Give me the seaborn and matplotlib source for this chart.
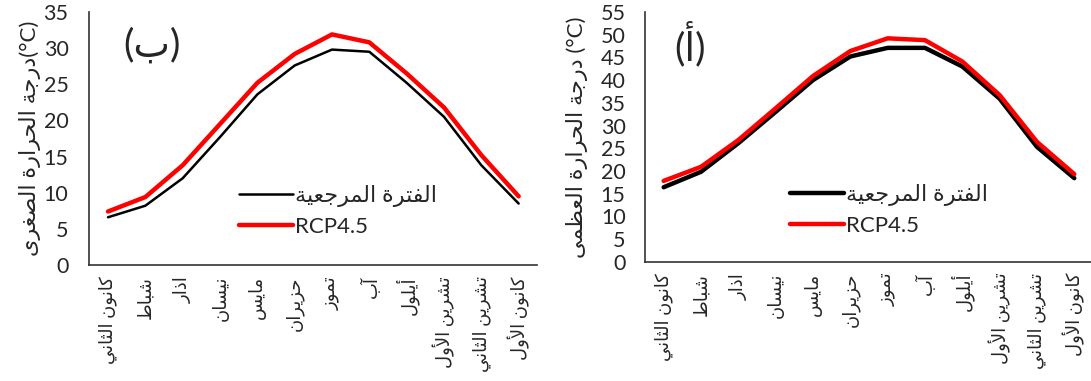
import pandas as pd
import numpy as np
import matplotlib
matplotlib.use('Agg')
import matplotlib.pyplot as plt
import seaborn as sns

# data
months = ['كانون الثاني', 'شباط', 'اذار', 'نيسان', 'مايس', 'حزيران', 'تموز',
          'آب', 'أيلول', 'تشرين الأول', 'تشرين الثاني', 'كانون الأول']
series_names = ['الفترة المرجعية', 'RCP4.5']

tmin_ref = [6.6, 8.2, 12.0, 17.7, 23.6, 27.6, 29.8, 29.5, 25.2, 20.5, 13.8, 8.5]
tmin_rcp = [7.4, 9.4, 13.8, 19.5, 25.2, 29.2, 31.9, 30.8, 26.5, 21.8, 15.2, 9.5]
tmax_ref = [16.4, 19.8, 26.1, 33.0, 40.0, 45.2, 47.1, 47.1, 43.0, 35.9, 25.3, 18.4]
tmax_rcp = [17.8, 20.9, 26.8, 33.8, 40.9, 46.4, 49.2, 48.8, 44.1, 36.7, 26.4, 19.3]

ylabel_min = 'درجة الحرارة الصغرى'
ylabel_max = 'درجة الحرارة العظمى'
panel_min = 'ب'
panel_max = 'أ'

# matplotlib has no arabic shaping: map letters to presentation forms and reverse
FORMS = {
    'ا': (0xFE8D, 2), 'أ': (0xFE83, 2), 'آ': (0xFE81, 2), 'إ': (0xFE87, 2),
    'ب': (0xFE8F, 4), 'ة': (0xFE93, 2), 'ت': (0xFE95, 4), 'ث': (0xFE99, 4),
    'ج': (0xFE9D, 4), 'ح': (0xFEA1, 4), 'خ': (0xFEA5, 4), 'د': (0xFEA9, 2),
    'ذ': (0xFEAB, 2), 'ر': (0xFEAD, 2), 'ز': (0xFEAF, 2), 'س': (0xFEB1, 4),
    'ش': (0xFEB5, 4), 'ص': (0xFEB9, 4), 'ض': (0xFEBD, 4), 'ط': (0xFEC1, 4),
    'ظ': (0xFEC5, 4), 'ع': (0xFEC9, 4), 'غ': (0xFECD, 4), 'ف': (0xFED1, 4),
    'ق': (0xFED5, 4), 'ك': (0xFED9, 4), 'ل': (0xFEDD, 4), 'م': (0xFEE1, 4),
    'ن': (0xFEE5, 4), 'ه': (0xFEE9, 4), 'و': (0xFEED, 2), 'ى': (0xFEEF, 2),
    'ي': (0xFEF1, 4),
}
LAM_ALEF = {'ا': 0xFEFB, 'أ': 0xFEF7, 'آ': 0xFEF5, 'إ': 0xFEF9}


def ar(text):
    out = []
    i = 0
    n = len(text)
    while i < n:
        ch = text[i]
        if ch not in FORMS:
            out.append(ch)
            i += 1
            continue
        prev = text[i - 1] if i > 0 else ''
        joins_prev = prev in FORMS and FORMS[prev][1] == 4
        if ch == 'ل' and i + 1 < n and text[i + 1] in LAM_ALEF:
            out.append(chr(LAM_ALEF[text[i + 1]] + int(joins_prev)))
            i += 2
            continue
        base, k = FORMS[ch]
        nxt = text[i + 1] if i + 1 < n else ''
        joins_next = k == 4 and nxt in FORMS
        if joins_prev and joins_next:
            off = 3
        elif joins_prev:
            off = 1
        elif joins_next:
            off = 2
        else:
            off = 0
        out.append(chr(base + off))
        i += 1
    return ''.join(reversed(out))


sns.set_style('white')
plt.rcParams['font.family'] = ['Lato', 'DejaVu Sans']

fig = plt.figure(figsize=(10.91, 3.81), dpi=100)
ax_min = fig.add_axes([0.0819, 0.3045, 0.4106, 0.664])
ax_max = fig.add_axes([0.5912, 0.3131, 0.4106, 0.6554])

idx = np.arange(len(months))


def draw(ax, ref, rcp, ref_lw, ymax, ylab, unit, panel, px, leg_anchor, ypad, lpad):
    sns.lineplot(x=idx, y=ref, ax=ax, color='black', linewidth=ref_lw,
                 label=ar(series_names[0]))
    sns.lineplot(x=idx, y=rcp, ax=ax, color='#ff0000', linewidth=3.2,
                 label=series_names[1])
    ax.set_xlim(-0.5, len(months) - 0.5)
    ax.set_ylim(0, ymax)
    ax.set_yticks(np.arange(0, ymax + 1, 5))
    ax.set_xticks(idx)
    ax.set_xticklabels([ar(m) for m in months], rotation=90, fontsize=13,
                       va='top', ha='center')
    ax.set_xticks(np.arange(-0.5, len(months), 1), minor=True)
    ax.tick_params(axis='x', which='major', length=0, pad=8)
    ax.tick_params(axis='x', which='minor', direction='in', length=6,
                   width=1, color='#333333')
    ax.tick_params(axis='y', direction='in', length=6, width=1,
                   color='#333333', labelsize=15.5, pad=ypad)
    for s in ['top', 'right']:
        ax.spines[s].set_visible(False)
    for s in ['left', 'bottom']:
        ax.spines[s].set_color('#333333')
        ax.spines[s].set_linewidth(1.2)
    ax.set_xlabel('')
    ax.set_ylabel(ar(ylab) + unit, fontsize=16, labelpad=lpad)
    ax.text(px, 0.87, '(' + ar(panel) + ')', transform=ax.transAxes,
            fontsize=28, ha='center', va='center')
    ax.legend(loc='upper left', bbox_to_anchor=leg_anchor, frameon=False,
              fontsize=16, handlelength=2.4, handletextpad=0.1,
              labelspacing=0.45, borderpad=0)


draw(ax_min, tmin_ref, tmin_rcp, 1.8, 35, ylabel_min, '(°C)', panel_min,
     0.14, (0.31, 0.36), 15, 2)
draw(ax_max, tmax_ref, tmax_rcp, 3.2, 55, ylabel_max, ' (°C)', panel_max,
     0.10, (0.30, 0.355), 14, 9)

fig.savefig('out.png', dpi=100)
